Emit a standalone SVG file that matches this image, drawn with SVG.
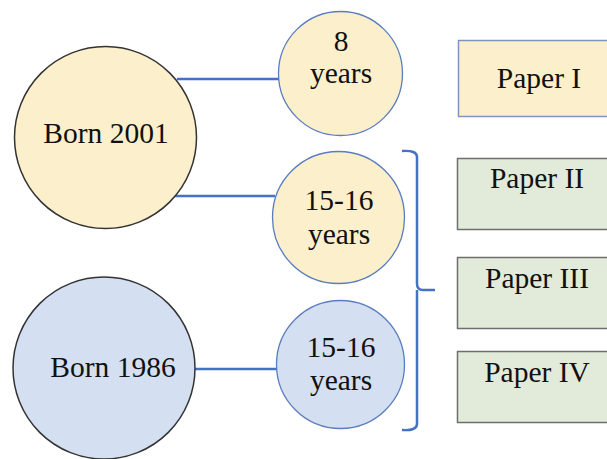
<svg xmlns="http://www.w3.org/2000/svg" width="607" height="459" viewBox="0 0 607 459">
<style>
text{font-family:"Liberation Serif","Times New Roman",serif;font-size:29.5px;fill:#111;text-anchor:middle}
.big{stroke:#333;stroke-width:1.5}
.small{stroke:#5b7dbf;stroke-width:1.3}
.y{fill:#fcefcb}
.b{fill:#d4dff1}
.g{fill:#e2ead9;stroke:#6e6e6e;stroke-width:1.5}
.conn{stroke:#4472c4;stroke-width:2.5;fill:none}
</style>
<rect width="607" height="459" fill="#fff"/>
<g id="connectors">
<line class="conn" x1="177" y1="79" x2="280" y2="79"/>
<line class="conn" x1="172" y1="196" x2="275" y2="196"/>
<line class="conn" x1="194" y1="369" x2="277" y2="369"/>
<path class="conn" d="M402,151 Q417,150 417,157 L417,284 Q417,290 423,290 L435,290 M417,290 L417,424 Q417,431 402,430"/>
</g>
<g id="born2001"><circle class="big y" cx="105.5" cy="137.5" r="91"/><text x="106" y="143">Born 2001</text></g>
<g id="born1986"><circle class="big b" cx="104" cy="368" r="91"/><text x="113" y="377">Born 1986</text></g>
<g id="age8"><circle class="small y" cx="340.5" cy="73.5" r="62"/><text x="341" y="51">8</text><text x="341" y="83">years</text></g>
<g id="age1516a"><circle class="small y" cx="338.5" cy="217.5" r="66"/><text x="339" y="210">15-16</text><text x="339" y="244">years</text></g>
<g id="age1516b"><circle class="small b" cx="340.5" cy="364.5" r="64"/><text x="341" y="357">15-16</text><text x="341" y="390">years</text></g>
<g id="paper1"><rect x="458.5" y="40.5" width="160" height="76" fill="#fcefcb" stroke="#8096b8" stroke-width="1.5"/><text x="539" y="88">Paper I</text></g>
<g id="paper2"><rect class="g" x="457.5" y="158.5" width="160" height="71"/><text x="537" y="188">Paper II</text></g>
<g id="paper3"><rect class="g" x="457.5" y="257.5" width="160" height="71"/><text x="537" y="288">Paper III</text></g>
<g id="paper4"><rect class="g" x="457.5" y="351.5" width="160" height="71"/><text x="537" y="382">Paper IV</text></g>
</svg>
